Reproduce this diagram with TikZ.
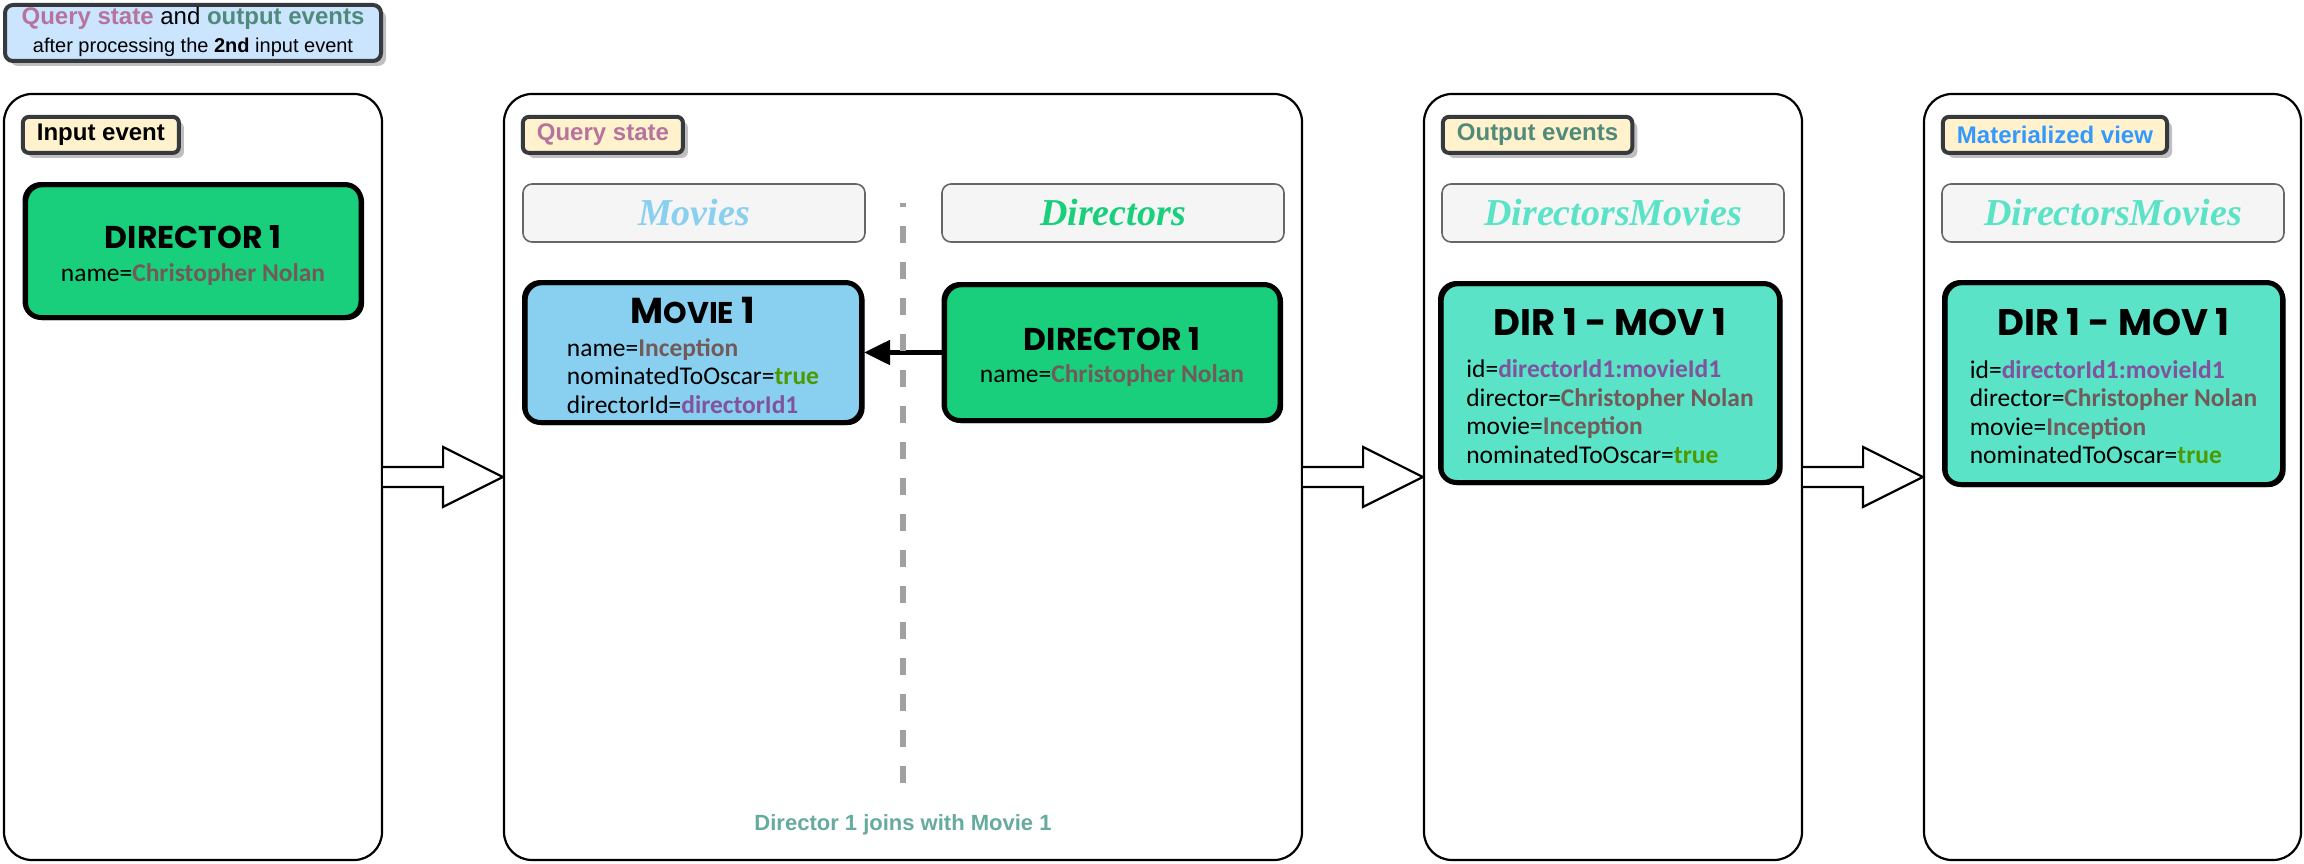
\documentclass[tikz,border=0pt]{standalone}
\usepackage{fontspec}
\setmainfont{Liberation Sans}
\newfontfamily\bodyfont{Carlito}
\newfontfamily\markfont{Poppins}
\newfontfamily\pillfont{Liberation Serif}
\usetikzlibrary{positioning,calc,shadows,arrows.meta}

\definecolor{tagfill}{HTML}{FFF2CC}
\definecolor{tagline}{HTML}{36393D}
\definecolor{legendfill}{HTML}{CCE5FF}
\definecolor{pillfill}{HTML}{F5F5F5}
\definecolor{pillline}{HTML}{666666}
\definecolor{qstate}{HTML}{B5739D}
\definecolor{outev}{HTML}{4F8A7B}
\definecolor{matview}{HTML}{3399FF}
\definecolor{joincol}{HTML}{67AB9F}
\definecolor{movieblue}{HTML}{89CFF0}
\definecolor{dirgreen}{HTML}{19CF7B}
\definecolor{dmteal}{HTML}{5AE3C7}
\definecolor{valbrown}{HTML}{735A5A}
\definecolor{valgreen}{HTML}{4D9900}
\definecolor{valpurple}{HTML}{80539E}
\definecolor{sepgray}{HTML}{A0A0A0}
\definecolor{shadowgray}{HTML}{BFBFBF}

\newcommand{\fieldval}[2]{\textbf{\color{#1}#2}}
\newcommand{\rectitle}[2]{\multicolumn{1}{@{}c@{}}{\markfont\bfseries\fontsize{#1}{36}\selectfont #2}}

\tikzset{
  panel/.style={draw, line width=2.2pt, rounded corners=28pt, minimum height=766pt},
  legend/.style={draw=tagline, fill=legendfill, line width=4pt, rounded corners=8pt,
    minimum width=376pt, minimum height=56pt, inner sep=0pt,
    drop shadow={shadow xshift=5pt, shadow yshift=-5pt, fill=shadowgray, opacity=1}},
  tag/.style={draw=tagline, fill=tagfill, line width=4pt, rounded corners=6pt,
    minimum height=36pt, inner xsep=14pt, inner ysep=0pt,
    font=\fontsize{24}{28}\selectfont\bfseries,
    drop shadow={shadow xshift=5pt, shadow yshift=-5pt, fill=shadowgray, opacity=1}},
  pill/.style={draw=pillline, fill=pillfill, line width=1.6pt, rounded corners=9pt,
    minimum width=342pt, minimum height=58pt, font=\pillfont\fontsize{38}{40}\selectfont\bfseries\itshape},
  record/.style={draw, line width=5pt, rounded corners=16pt, inner sep=0pt,
    font=\bodyfont\fontsize{25.5}{28.5}\selectfont,
    postaction={draw, line width=2.2pt, rounded corners=20pt,
      transform canvas={shift={(2pt,-1.5pt)}}}},
  blockarrow/.style={draw, line width=2.2pt, fill=white, line join=miter},
  joinarrow/.style={line width=5pt, -{Triangle[length=26pt,width=24pt]}},
  sepline/.style={draw=sepgray, line width=6pt, dash pattern=on 17pt off 19pt, dash phase=13pt},
  joinnote/.style={font=\fontsize{22}{24}\selectfont\bfseries, text=joincol}
}

\begin{document}
\begin{tikzpicture}[x=1pt, y=-1pt]
\fill[white] (0,0) rectangle (2304,864);
\useasboundingbox (0,0) rectangle (2304,864);

% legend
\node[legend] (legend) at (193,33) {\fontsize{24}{28}\selectfont
  \begin{tabular}{@{}c@{}}
  \textbf{\color{qstate}Query state} and \textbf{\color{outev}output events}\\
  \fontsize{20}{22}\selectfont after processing the \textbf{2nd} input event
  \end{tabular}};

% panels
\draw (193,477) node[panel, minimum width=378pt](inputpanel){}
    (903,477) node[panel, minimum width=798pt](statepanel){}
    (1613,477) node[panel, minimum width=378pt](outpanel){}
    (2112.5,477) node[panel, minimum width=377pt](viewpanel){};

% panel tags
\node[tag, below right=22pt and 18pt of inputpanel.north west] (inputtag) {Input event};
\node[tag, text=qstate, below right=22pt and 18pt of statepanel.north west] (statetag) {Query state};
\node[tag, text=outev, below right=22pt and 18pt of outpanel.north west] (outtag) {Output events};
\node[tag, text=matview, below right=22pt and 18pt of viewpanel.north west] (viewtag) {Materialized view};

% table headers
\node[pill, text=movieblue] (moviespill) at (694,213) {Movies};
\node[pill, text=dirgreen] (directorspill) at (1113,213) {Directors};
\node[pill, text=dmteal] (outpill) at (1613,213) {DirectorsMovies};
\node[pill, text=dmteal] (viewpill) at (2113,213) {DirectorsMovies};

% records
\node[record, fill=dirgreen, minimum width=336pt, minimum height=133pt] (indirector) at (193,251)
  {\begin{tabular}{@{}c@{}}\rectitle{31.5}{DIRECTOR 1}\\[4pt]
   name=\fieldval{valbrown}{Christopher Nolan}\\[-14pt]\end{tabular}};
\node[record, fill=movieblue, minimum width=337pt, minimum height=140pt] (movie) at (693,352.5)
  {\begin{tabular}{@{}l@{}}\rectitle{36}{M{\fontsize{30}{30}\selectfont OVIE} 1}\\[4pt]
   name=\fieldval{valbrown}{Inception}\\
   nominatedToOscar=\fieldval{valgreen}{true}\\
   directorId=\fieldval{valpurple}{directorId1}\\[-14pt]\end{tabular}};
\node[record, fill=dirgreen, minimum width=336pt, minimum height=136pt] (statedirector) at (1112,352.5)
  {\begin{tabular}{@{}c@{}}\rectitle{31.5}{DIRECTOR 1}\\[3pt]
   name=\fieldval{valbrown}{Christopher Nolan}\\[-14pt]\end{tabular}};
\node[record, fill=dmteal, minimum width=339pt, minimum height=199pt] (outrecord) at (1610,383)
  {\begin{tabular}{@{}l@{}}\rectitle{37}{DIR 1 - MOV 1}\\[14pt]
   id=\fieldval{valpurple}{directorId1:movieId1}\\
   director=\fieldval{valbrown}{Christopher Nolan}\\
   movie=\fieldval{valbrown}{Inception}\\
   nominatedToOscar=\fieldval{valgreen}{true}\\[-14pt]\end{tabular}};
\node[record, fill=dmteal, minimum width=338pt, minimum height=202pt] (viewrecord) at (2113.5,383.5)
  {\begin{tabular}{@{}l@{}}\rectitle{37}{DIR 1 - MOV 1}\\[14pt]
   id=\fieldval{valpurple}{directorId1:movieId1}\\
   director=\fieldval{valbrown}{Christopher Nolan}\\
   movie=\fieldval{valbrown}{Inception}\\
   nominatedToOscar=\fieldval{valgreen}{true}\\[-14pt]\end{tabular}};

% join
\draw[joinarrow] (statedirector.west) -- (movie.east);
\coordinate (septop) at (903,203);
\coordinate (sepbot) at (903,783);
\draw[sepline] (septop) -- (sepbot);
\node[joinnote] (joinlabel) at (903,825) {Director 1 joins with Movie 1};

% flow arrows
\draw[blockarrow] ($(inputpanel.east)+(0,-10)$) -- ++(60,0) -- ++(0,-20) -- (statepanel.west)
    -- ++(-60,30) -- ++(0,-20) -- ($(inputpanel.east)+(0,10)$);
\draw[blockarrow] ($(statepanel.east)+(0,-10)$) -- ++(60,0) -- ++(0,-20) -- (outpanel.west)
    -- ++(-60,30) -- ++(0,-20) -- ($(statepanel.east)+(0,10)$);
\draw[blockarrow] ($(outpanel.east)+(0,-10)$) -- ++(60,0) -- ++(0,-20) -- (viewpanel.west)
    -- ++(-60,30) -- ++(0,-20) -- ($(outpanel.east)+(0,10)$);
\end{tikzpicture}
\end{document}
